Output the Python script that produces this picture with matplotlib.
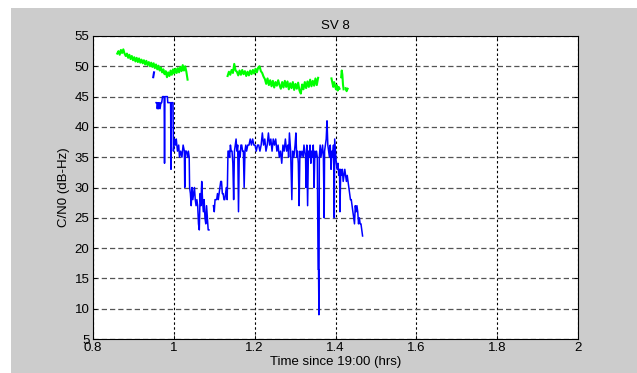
import numpy as np
import matplotlib
matplotlib.use("Agg")
import matplotlib.pyplot as plt
from matplotlib.patches import Rectangle

plt.rcParams['font.family'] = ['Liberation Sans', 'DejaVu Sans']

# C/N0 of the high-elevation (green) track, pieces with gaps between them
green_t = [(0.860, 1.034), (1.133, 1.357), (1.390, 1.410), (1.414, 1.420), (1.425, 1.430)]
green_seg1 = [52.1, 52.5, 51.9, 52.7, 52.2, 52.8, 52.1, 51.7, 52.1, 51.4,
              51.9, 51.2, 51.7, 51.0, 51.5, 50.8, 51.4, 50.7, 51.3, 50.6,
              51.1, 50.5, 51.0, 50.3, 50.9, 50.2, 50.7, 50.0, 50.6, 49.9,
              50.5, 49.7, 50.3, 49.5, 50.1, 49.3, 49.8, 49.0, 49.5, 48.7,
              49.2, 48.2, 49.0, 48.4, 49.3, 48.6, 49.5, 48.8, 49.6, 48.9,
              49.7, 49.0, 49.9, 49.2, 50.2, 49.3, 50.0, 49.1, 47.8]
green_seg2 = [48.4, 49.1, 48.6, 49.4, 48.9, 50.4, 49.3, 49.1, 48.5, 49.3,
              48.6, 49.4, 48.7, 49.2, 48.4, 49.1, 48.5, 49.3, 48.7, 49.4,
              48.8, 49.6, 49.0, 49.8, 50.0, 49.2, 48.9, 48.3, 47.9, 47.1,
              48.0, 46.9, 47.7, 46.7, 47.6, 46.5, 47.4, 46.8, 47.7, 46.9,
              46.3, 47.4, 46.5, 47.6, 46.6, 47.5, 46.2, 47.2, 46.4, 47.4,
              46.1, 47.1, 46.3, 47.3, 46.0, 45.5, 47.0, 46.2, 47.4, 46.4,
              47.5, 46.6, 47.8, 46.7, 47.6, 46.8, 48.0, 46.9, 48.1]
green_seg3 = [48.0, 47.3, 46.6, 47.4, 46.8, 46.2, 46.9, 46.0, 46.6, 46.3]
green_seg4 = [48.2, 49.3, 48.6, 47.0, 46.2]
green_seg5 = [46.4, 45.9, 46.3]

# low-elevation (blue) track
blue_blip_t = [0.949, 0.950, 0.951]
blue_blip_v = [48.2, 48.6, 49.0]

blue_t = [0.956, 0.958, 0.959, 0.961, 0.962, 0.964, 0.966, 0.968, 0.970, 0.972,
          0.974, 0.976, 0.977, 0.978, 0.984, 0.985, 0.992, 0.993, 0.994, 0.998,
          0.999, 1.001, 1.004, 1.006, 1.009, 1.012, 1.014, 1.017, 1.020, 1.023,
          1.026, 1.027, 1.028, 1.031, 1.034, 1.036, 1.038, 1.039, 1.041, 1.043,
          1.045, 1.047, 1.049, 1.051, 1.053, 1.055, 1.057, 1.059, 1.061, 1.063,
          1.065, 1.067, 1.069, 1.071, 1.073, 1.075, 1.077, 1.079, 1.081, 1.083,
          1.085, 1.087, np.nan,
          1.098, 1.100, 1.102, 1.104, 1.106, 1.108, 1.110, 1.112, 1.114, 1.116,
          1.118, 1.120, 1.122, 1.124, 1.126, 1.128, 1.130, 1.132, 1.134, 1.136,
          1.138, 1.140, 1.142, 1.144, 1.146, 1.148, 1.150, 1.152, 1.154, 1.156,
          1.158, 1.160, 1.162, 1.164, 1.166, 1.168, 1.170, 1.172, 1.174, 1.176,
          1.178, 1.180, 1.183, 1.186, 1.189, 1.192, 1.195, 1.198, 1.201, 1.204,
          1.207, 1.210, 1.213, 1.216, 1.219, 1.222, 1.225, 1.228, 1.231, 1.234,
          1.237, 1.240, 1.243, 1.246, 1.249, 1.252, 1.255, 1.258, 1.261, 1.264,
          1.267, 1.270, 1.273, 1.276, 1.279, 1.282, 1.284, 1.286, 1.289, 1.292,
          1.294, 1.297, 1.300, 1.302, 1.304, 1.306, 1.308, 1.310, 1.312, 1.314,
          1.317, 1.320, 1.322, 1.324, 1.326, 1.327, 1.329, 1.331, 1.333, 1.335,
          1.337, 1.339, 1.341, 1.343, 1.345, 1.347, 1.349, 1.351, 1.353, 1.355,
          1.357, 1.358, 1.359, 1.360, 1.362, 1.364, 1.366, 1.368, 1.370, 1.372,
          1.373, 1.375, 1.377, 1.379, 1.381, 1.383, 1.385, 1.387, 1.389, 1.391,
          1.393, 1.395, 1.397, 1.398, 1.400, 1.402, 1.404, 1.406, 1.408, 1.410,
          1.411, 1.413, 1.415, 1.417, 1.419, 1.421, 1.423, 1.425, 1.427, 1.429,
          1.431, 1.433, 1.435, 1.437, 1.439, 1.441, 1.443, 1.445, 1.447, 1.449,
          1.451, 1.453, 1.455, 1.457, 1.459, 1.461, 1.463, 1.465, 1.467]
blue_v = [44, 44, 43, 44, 43, 44, 43, 44, 44, 45,
          45, 45, 34, 45, 45, 44, 44, 33, 44, 44,
          36, 38, 37, 38, 36, 37, 35, 36, 35, 37,
          36, 30, 36, 36, 35, 36, 35, 30, 29, 27,
          30, 28, 29, 30, 28, 27, 28, 27, 24, 23,
          29, 27, 31, 28, 26, 28, 25, 24, 27, 25,
          23, 23, np.nan,
          27, 26, 28, 28, 28, 29, 28, 29, 30, 31,
          31, 29, 29, 28, 28, 29, 30, 28, 36, 36,
          35, 37, 36, 36, 34, 28, 36, 37, 38, 36,
          37, 26, 36, 35, 37, 37, 36, 36, 30, 36,
          37, 36, 37, 37, 38, 37, 38, 37, 37, 36,
          37, 37, 36, 37, 39, 37, 38, 36, 37, 39,
          37, 38, 36, 38, 37, 38, 36, 37, 35, 36,
          34, 37, 36, 38, 36, 37, 35, 39, 36, 28,
          36, 35, 37, 39, 35, 36, 34, 27, 36, 35,
          36, 35, 37, 36, 35, 30, 37, 27, 36, 35,
          37, 34, 36, 35, 37, 30, 36, 35, 36, 35,
          16.5, 16.5, 9, 35, 37, 35, 36, 37, 35, 25,
          36, 37, 38, 41, 37, 36, 35, 37, 33, 36,
          35, 37, 25, 38, 36, 34, 33, 34, 32, 33,
          26, 33, 32, 33, 31, 32, 33, 32, 31, 32,
          31, 30, 29, 28, 28, 27, 26, 25, 24, 27,
          26, 27, 26, 24, 25, 24, 24, 23, 22]

xticks = [0.8, 1.0, 1.2, 1.4, 1.6, 1.8, 2.0]
xticklabels = ['0.8', '1', '1.2', '1.4', '1.6', '1.8', '2']
yticks = list(range(5, 60, 5))

fig = plt.figure(figsize=(6.37, 3.73), dpi=100, facecolor='white')
# grey window area
fig.patches.append(Rectangle((11 / 637, 0), 1, 1 - 8 / 373, transform=fig.transFigure,
                             facecolor='#cccccc', edgecolor='none', zorder=-1))

ax = fig.add_axes([93 / 637, 1 - 339 / 373, 485 / 637, 303 / 373])
ax.set_facecolor('white')

green_segs = [green_seg1, green_seg2, green_seg3, green_seg4, green_seg5]
for (t0, t1), seg in zip(green_t, green_segs):
    ax.plot(np.linspace(t0, t1, len(seg)), seg, color='#00ff00', lw=1.5)

ax.plot(blue_blip_t, blue_blip_v, color='#0000ff', lw=1.5)
ax.plot(blue_t, blue_v, color='#0000ff', lw=1.1)

ax.set_xlim(0.8, 2.0)
ax.set_ylim(5, 55)
ax.set_xticks(xticks)
ax.set_xticklabels(xticklabels)
ax.set_yticks(yticks)

ax.xaxis.grid(True, color='k', lw=0.8, linestyle=(0, (2.2, 2.2)))
ax.yaxis.grid(True, color='#555555', lw=0.9, linestyle=(0, (4.2, 2.4)))
ax.set_axisbelow(True)

ax.tick_params(direction='in', length=3, width=0.6, top=True, right=True,
               labelsize=9.5, pad=2.5)
for s in ax.spines.values():
    s.set_linewidth(0.8)
    s.set_color('k')

ax.set_title('SV 8', fontsize=9.5, pad=5)
ax.set_xlabel('Time since 19:00 (hrs)', fontsize=9.5, labelpad=1)
ax.set_ylabel('C/N0 (dB-Hz)', fontsize=9.5, labelpad=3)

fig.savefig('out.png', dpi=100, facecolor=fig.get_facecolor())
